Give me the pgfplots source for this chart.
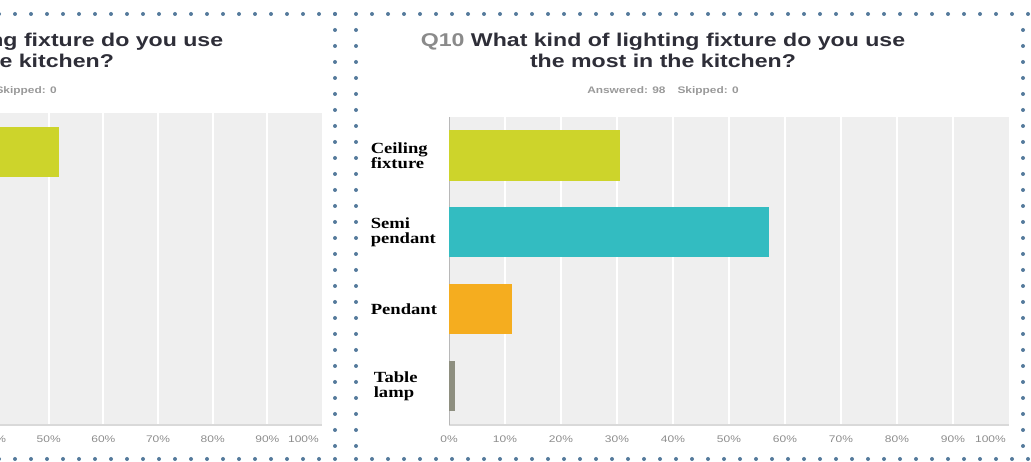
\documentclass[border=0pt]{standalone}
\usepackage{fontspec}
\setmainfont{Liberation Sans}
\usepackage{pgfplots}
\pgfplotsset{compat=1.18}
\newfontfamily\tsans[FakeStretch=1.25]{Liberation Sans}
\newfontfamily\lab[FakeStretch=1.2]{Liberation Serif}
\definecolor{cgreen}{HTML}{CDD42B}
\definecolor{cteal}{HTML}{33BCC1}
\definecolor{corange}{HTML}{F5AD1F}
\definecolor{cgray}{HTML}{8E8F80}
\definecolor{plotbg}{HTML}{EFEFEF}
\definecolor{dotc}{HTML}{557A9C}
\definecolor{titlec}{HTML}{2E2E38}
\definecolor{qgray}{HTML}{8A8A8A}
\definecolor{tickc}{HTML}{8C8C8C}
\pgfplotsset{panel/.style={
  scale only axis,
  xbar, bar width=50pt, bar shift=0pt,
  xmin=0, xmax=100, ymin=-0.5, ymax=3.5, y dir=reverse,
  axis background/.style={fill=plotbg},
  axis x line*=bottom, axis y line*=left,
  x axis line style={draw=black!15, line width=1.5pt, -},
  y axis line style={draw=black!28, line width=1pt, -},
  xmajorgrids, major grid style={white, line width=2pt},
  major tick length=0pt,
  xtick={0,10,...,90},
  xticklabels={0\%,10\%,20\%,30\%,40\%,50\%,60\%,70\%,80\%,90\%},
  extra x ticks={100}, extra x tick labels={100\%},
  extra x tick style={grid=none, xticklabel style={anchor=north east, xshift=-3pt}},
  xticklabel style={font=\tsans\fontsize{9.6}{11}\selectfont, text=tickc, inner sep=0pt, yshift=-11pt},
  ytick={0,1,2,3},
}}
\begin{document}
\begin{tikzpicture}[x=1pt,y=1pt]
\path[use as bounding box] (0,0) rectangle (1031,462);
\clip (0,0) rectangle (1031,462);

% left (cropped) panel
\begin{axis}[panel, width=546.5pt, height=312pt, at={(-224.5pt,37pt)}, anchor=south west,
  xtick={40,50,...,90}, xticklabels={40\%,50\%,60\%,70\%,80\%,90\%},
  yticklabels={}]
\addplot[fill=cgreen, draw=none] coordinates {(51.8,0)};
\end{axis}

% right panel
\begin{axis}[panel, width=560pt, height=308pt, at={(449pt,37pt)}, anchor=south west,
  yticklabels={{Ceiling\\fixture},{Semi\\pendant},Pendant,{\hspace*{3pt}Table\\\hspace*{3pt}lamp}},
  yticklabel style={font=\lab\fontsize{15.5}{15}\selectfont\bfseries, text=black, align=left, text width=66pt, inner sep=0pt, anchor=east, xshift=-12pt}]
\addplot[fill=cgreen, draw=none] coordinates {(30.61,0)};
\addplot[fill=cteal, draw=none] coordinates {(57.14,1)};
\addplot[fill=corange, draw=none] coordinates {(11.22,2)};
\addplot[fill=cgray, draw=none] coordinates {(1.02,3)};
\end{axis}

% titles
\begin{scope}[every node/.style={anchor=base, inner sep=0pt}]
\node[font=\tsans\fontsize{18.5}{21}\selectfont\bfseries, text=titlec] at (663,415) {{\color{qgray}Q10} What kind of lighting fixture do you use};
\node[font=\tsans\fontsize{18.5}{21}\selectfont\bfseries, text=titlec] at (663,394) {the most in the kitchen?};
\node[font=\tsans\fontsize{9.5}{11}\selectfont\bfseries, text=black!40] at (663,368) {Answered: 98\hspace{12pt}Skipped: 0};
\node[font=\tsans\fontsize{18.5}{21}\selectfont\bfseries, text=titlec] at (-19,415) {{\color{qgray}Q10} What kind of lighting fixture do you use};
\node[font=\tsans\fontsize{18.5}{21}\selectfont\bfseries, text=titlec] at (-19,394) {the most in the kitchen?};
\node[font=\tsans\fontsize{9.5}{11}\selectfont\bfseries, text=black!40] at (-19,368) {Answered: 98\hspace{12pt}Skipped: 0};
\end{scope}

% dotted frames
\begin{scope}[draw=dotc, line width=4pt, line cap=round, dash pattern=on 0pt off 16pt]
\draw (335,448) -- (-10,448);
\draw (335,448) -- (335,0);
\draw (335,3) -- (-10,3);
\draw (356,448) -- (1031,448);
\draw (356,432) -- (356,0);
\draw (1023,432) -- (1023,0);
\draw (356,3) -- (1031,3);
\end{scope}
\end{tikzpicture}
\end{document}
